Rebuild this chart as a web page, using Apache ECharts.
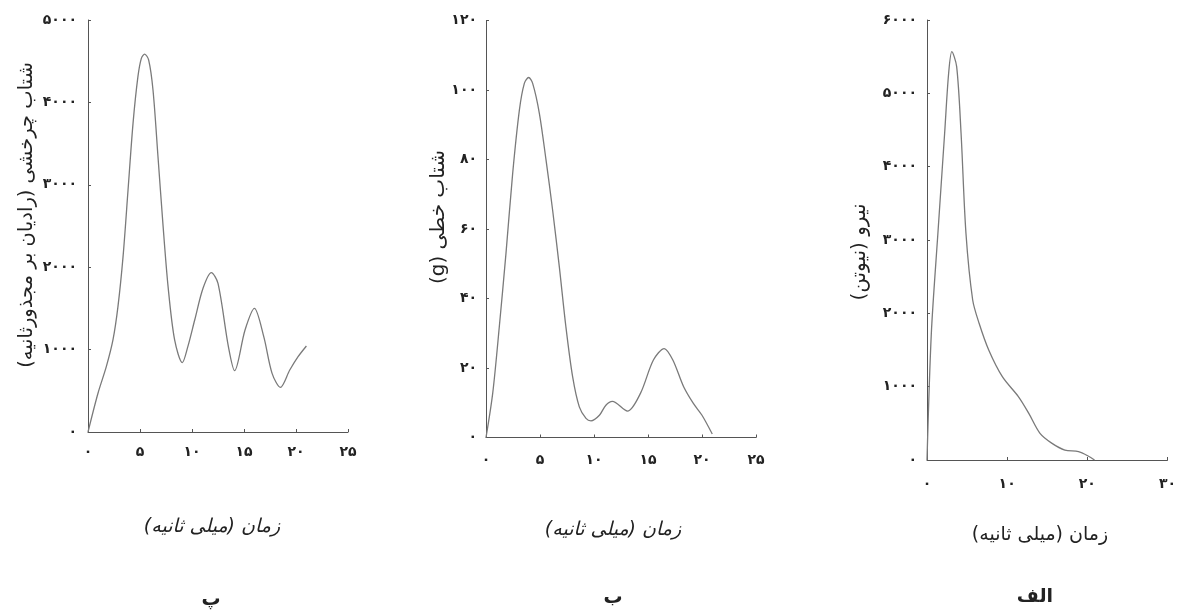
<!DOCTYPE html>
<html>
<head>
<meta charset="utf-8">
<script src="https://cdn.jsdelivr.net/npm/echarts@6/dist/echarts.min.js"></script>
<style>
html,body{margin:0;padding:0;background:#fff;}
#c{width:1179px;height:614px;direction:rtl;}
</style>
</head>
<body>
<div id="c"></div>
<script>
// Panel پ (left): rotational acceleration
const timeP = [0, 0.96, 1.76, 2.4, 2.88, 3.37, 3.85, 4.33, 4.8, 5.13, 5.45, 5.83, 6.25, 6.73, 7.2, 7.7, 8.33, 9.07, 9.6, 10.26, 11.06, 11.86, 12.5, 13.5, 14.1, 15.1, 16.0, 16.9, 17.7, 18.5, 19.4, 20.2, 21.0];
const rotAccP = [0, 470, 793, 1117, 1521, 2128, 2937, 3746, 4312, 4535, 4587, 4515, 4150, 3341, 2532, 1764, 1117, 841, 1036, 1359, 1744, 1934, 1804, 1036, 744, 1238, 1500, 1157, 712, 542, 752, 914, 1044];
// Panel ب (middle): linear acceleration (g)
const timeB = [0, 0.62, 1.23, 1.85, 2.47, 3.09, 3.55, 3.95, 4.32, 4.94, 5.56, 6.17, 6.79, 7.4, 8.02, 8.64, 9.26, 9.72, 10.5, 11.1, 11.7, 13.1, 14.3, 15.5, 16.5, 17.3, 18.3, 19.2, 20.0, 20.95];
const linAccB = [0, 12.7, 31.8, 53, 76, 94.2, 101.9, 103.6, 101.9, 93.3, 79.8, 65.4, 49.1, 31.8, 17.5, 8.8, 5.5, 4.8, 6.4, 9.3, 10.4, 7.6, 12.7, 22.3, 25.6, 22.3, 14.6, 9.8, 6.4, 1.0];
// Panel الف (right): force (N)
const timeA = [0, 0.54, 1.36, 2.2, 2.7, 3.1, 3.7, 4.25, 4.86, 5.7, 6.5, 7.7, 9.4, 11.4, 12.7, 14.1, 15.6, 17.2, 18.9, 20.1, 20.9];
const forceA = [0, 1727, 3091, 4455, 5273, 5568, 5364, 4455, 3091, 2182, 1864, 1500, 1136, 864, 636, 364, 227, 136, 114, 55, 0];

const xTicksP = [0, 25, 5];
const yTicksP = [0, 5000, 1000];
const xTicksB = [0, 25, 5];
const yTicksB = [0, 120, 20];
const xTicksA = [0, 30, 10];
const yTicksA = [0, 6000, 1000];

const yTitleP = 'شتاب چرخشی (رادیان بر مجذورثانیه)';
const yTitleB = 'شتاب خطی (g)';
const yTitleA = 'نیرو (نیوتن)';
const xTitle = 'زمان (میلی ثانیه)';
const panelLabels = ['پ', 'ب', 'الف'];

const fa = v => String(v).replace(/\d/g, d => '۰۱۲۳۴۵۶۷۸۹'[d]);
const pairs = (xs, ys) => xs.map((x, i) => [x, ys[i]]);
const FONT = 'DejaVu Sans';

const grids = [
  {left: 88, top: 20, width: 260, height: 412},
  {left: 486, top: 20.5, width: 270, height: 417},
  {left: 927, top: 20, width: 243, height: 440}
];
const xt = [xTicksP, xTicksB, xTicksA];
const yt = [yTicksP, yTicksB, yTicksA];
const xMargins = [13, 16, 17];
const yMargins = [11, 9, 10];

function axisCommon(){
  return {
    axisLine: {show: true, lineStyle: {color: '#555', width: 1}},
    axisTick: {show: true, inside: true, length: 3, lineStyle: {color: '#555'}},
    splitLine: {show: false},
    axisLabel: {color: '#222', fontSize: 14, fontWeight: 'bold', fontFamily: FONT, formatter: fa}
  };
}

const xAxis = xt.map((t, i) => Object.assign(axisCommon(), {
  type: 'value', gridIndex: i, min: t[0], max: t[1], interval: t[2]
}));
xAxis.forEach((a, i) => { a.axisLabel = Object.assign({}, a.axisLabel, {margin: xMargins[i]}); });
const yAxis = yt.map((t, i) => Object.assign(axisCommon(), {
  type: 'value', gridIndex: i, min: t[0], max: t[1], interval: t[2]
}));
yAxis.forEach((a, i) => { a.axisLabel = Object.assign({}, a.axisLabel, {margin: yMargins[i]}); });

const lineStyle = {color: '#7a7a7a', width: 1.3};
const series = [
  {type: 'line', xAxisIndex: 0, yAxisIndex: 0, data: pairs(timeP, rotAccP)},
  {type: 'line', xAxisIndex: 1, yAxisIndex: 1, data: pairs(timeB, linAccB)},
  {type: 'line', xAxisIndex: 2, yAxisIndex: 2, data: pairs(timeA, forceA)}
].map(s => Object.assign(s, {smooth: 0.3, showSymbol: false, symbol: 'none', lineStyle: lineStyle, animation: false}));

function txt(text, x, y, size, opts){
  return Object.assign({
    type: 'text', x: x, y: y,
    style: Object.assign({text: text, fontSize: size, fontFamily: FONT, fill: '#222', align: 'center', verticalAlign: 'middle'}, (opts && opts.style) || {})
  }, (opts && opts.el) || {});
}

const graphic = [
  txt(yTitleP, 27, 215, 19.5, {el: {rotation: Math.PI / 2}}),
  txt(yTitleB, 439, 217, 20, {el: {rotation: Math.PI / 2}}),
  txt(yTitleA, 860, 252, 20, {el: {rotation: Math.PI / 2}}),
  txt(xTitle, 212, 527, 19, {style: {fontStyle: 'italic'}}),
  txt(xTitle, 613, 530, 19, {style: {fontStyle: 'italic'}}),
  txt(xTitle, 1040, 535, 19),
  txt(panelLabels[0], 211, 600, 19, {style: {fontWeight: 'bold'}}),
  txt(panelLabels[1], 613, 598, 19, {style: {fontWeight: 'bold'}}),
  txt(panelLabels[2], 1035, 597, 19, {style: {fontWeight: 'bold'}})
];

const chart = echarts.init(document.getElementById('c'), null, {renderer: 'canvas'});
chart.setOption({
  backgroundColor: '#fff',
  animation: false,
  grid: grids,
  xAxis: xAxis,
  yAxis: yAxis,
  series: series,
  graphic: graphic
});
</script>
</body>
</html>
